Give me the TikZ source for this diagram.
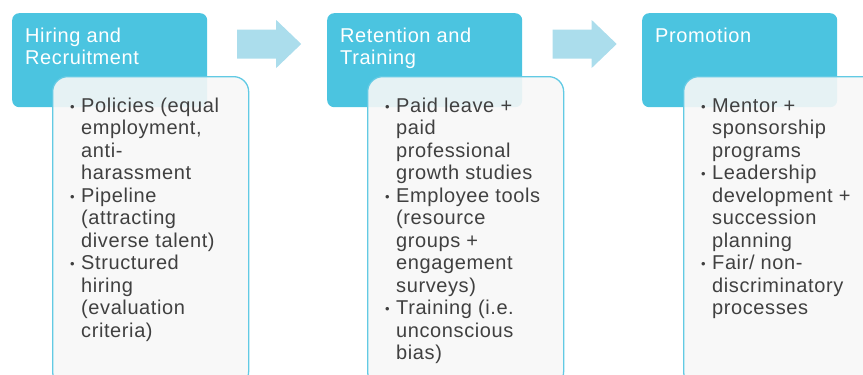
\documentclass[tikz,border=0pt]{standalone}
\usepackage{fontspec}
\setmainfont{Liberation Sans}[LetterSpace=3]
\usepackage{tikz}
\usetikzlibrary{calc}
\definecolor{hdrblue}{RGB}{75,196,224}
\definecolor{arrblue}{RGB}{171,221,236}
\definecolor{detline}{RGB}{98,202,228}
\definecolor{detfill}{RGB}{247,247,247}
\definecolor{txtgray}{RGB}{64,64,64}
\tikzset{
  hdr/.style={anchor=north west, inner sep=0pt, minimum width=195pt, minimum height=94pt, fill=hdrblue, rounded corners=7pt},
  det/.style={anchor=north west, inner sep=0pt, minimum width=196pt, minimum height=310pt, fill=detfill, fill opacity=0.9, draw=detline, line width=1.3pt, rounded corners=15pt},
  hdrtxt/.style={anchor=north west, inner sep=0pt, text=white, font=\fontsize{20}{22.5}\selectfont},
  dettxt/.style={anchor=north west, inner sep=0pt, text=txtgray, font=\fontsize{20}{22.5}\selectfont},
  arr/.style={fill=arrblue}
}
\def\flowarrow(#1){\fill[arr] ([shift={(-32,-14.5)}]#1) -- ([shift={(7,-14.5)}]#1) -- ([shift={(7,-24)}]#1) -- ([shift={(32,0)}]#1) -- ([shift={(7,24)}]#1) -- ([shift={(7,14.5)}]#1) -- ([shift={(-32,14.5)}]#1) -- cycle;}
\newcommand{\bl}{\makebox[11pt][l]{\fontsize{13}{13}\selectfont\raisebox{1.2pt}{•}}}

\begin{document}
\begin{tikzpicture}[x=1pt,y=-1pt]
			%%%%% START %%%%%
			\useasboundingbox (0,0) rectangle (863,375);
			\clip (0,0) rectangle (863,375);
			
			% headers
			\node[hdr] (hire) at (12,13) {};
			\node[hdr] (keep) at (327,13) {};
			\node[hdr] (promo) at (642,13) {};
			
			\node[hdrtxt] (hiretitle) at ([shift={(13,13.25)}]hire.north west) {\begin{tabular}{@{}l@{}}Hiring and\\Recruitment\end{tabular}};
			\node[hdrtxt] (keeptitle) at ([shift={(13,13.25)}]keep.north west) {\begin{tabular}{@{}l@{}}Retention and\\Training\end{tabular}};
			\node[hdrtxt] (promotitle) at ([shift={(13,13.25)}]promo.north west) {\begin{tabular}{@{}l@{}}Promotion\end{tabular}};
			
			% arrows
			\coordinate (m1) at ($(hire.north east)!0.5!(keep.north west)+(2,31)$);
			\coordinate (m2) at ($(keep.north east)!0.5!(promo.north west)+(2.5,31)$);
			\flowarrow(m1)
			\flowarrow(m2)
			
			% detail boxes
			\node[det] (hirebox) at ([shift={(40,63)}]hire.north west) {};
			\node[det] (keepbox) at ([shift={(40,63)}]keep.north west) {};
			\node[det] (promobox) at ([shift={(41,63)}]promo.north west) {};
			
			\node[dettxt] (hirelist) at ([shift={(18,20.25)}]hirebox.north west) {\begin{tabular}{@{}l@{}l@{}}
				\bl & Policies (equal\\ & employment,\\ & anti-\\ & harassment\\
				\bl & Pipeline\\ & (attracting\\ & diverse talent)\\
				\bl & Structured\\ & hiring\\ & (evaluation\\ & criteria)
			\end{tabular}};
			\node[dettxt] (keeplist) at ([shift={(18,20.25)}]keepbox.north west) {\begin{tabular}{@{}l@{}l@{}}
				\bl & Paid leave +\\ & paid\\ & professional\\ & growth studies\\
				\bl & Employee tools\\ & (resource\\ & groups +\\ & engagement\\ & surveys)\\
				\bl & Training (i.e.\\ & unconscious\\ & bias)
			\end{tabular}};
			\node[dettxt] (promolist) at ([shift={(18,20.25)}]promobox.north west) {\begin{tabular}{@{}l@{}l@{}}
				\bl & Mentor +\\ & sponsorship\\ & programs\\
				\bl & Leadership\\ & development +\\ & succession\\ & planning\\
				\bl & Fair/ non-\\ & discriminatory\\ & processes
			\end{tabular}};
			
			%%%%% END %%%%%
\end{tikzpicture}
\end{document}
